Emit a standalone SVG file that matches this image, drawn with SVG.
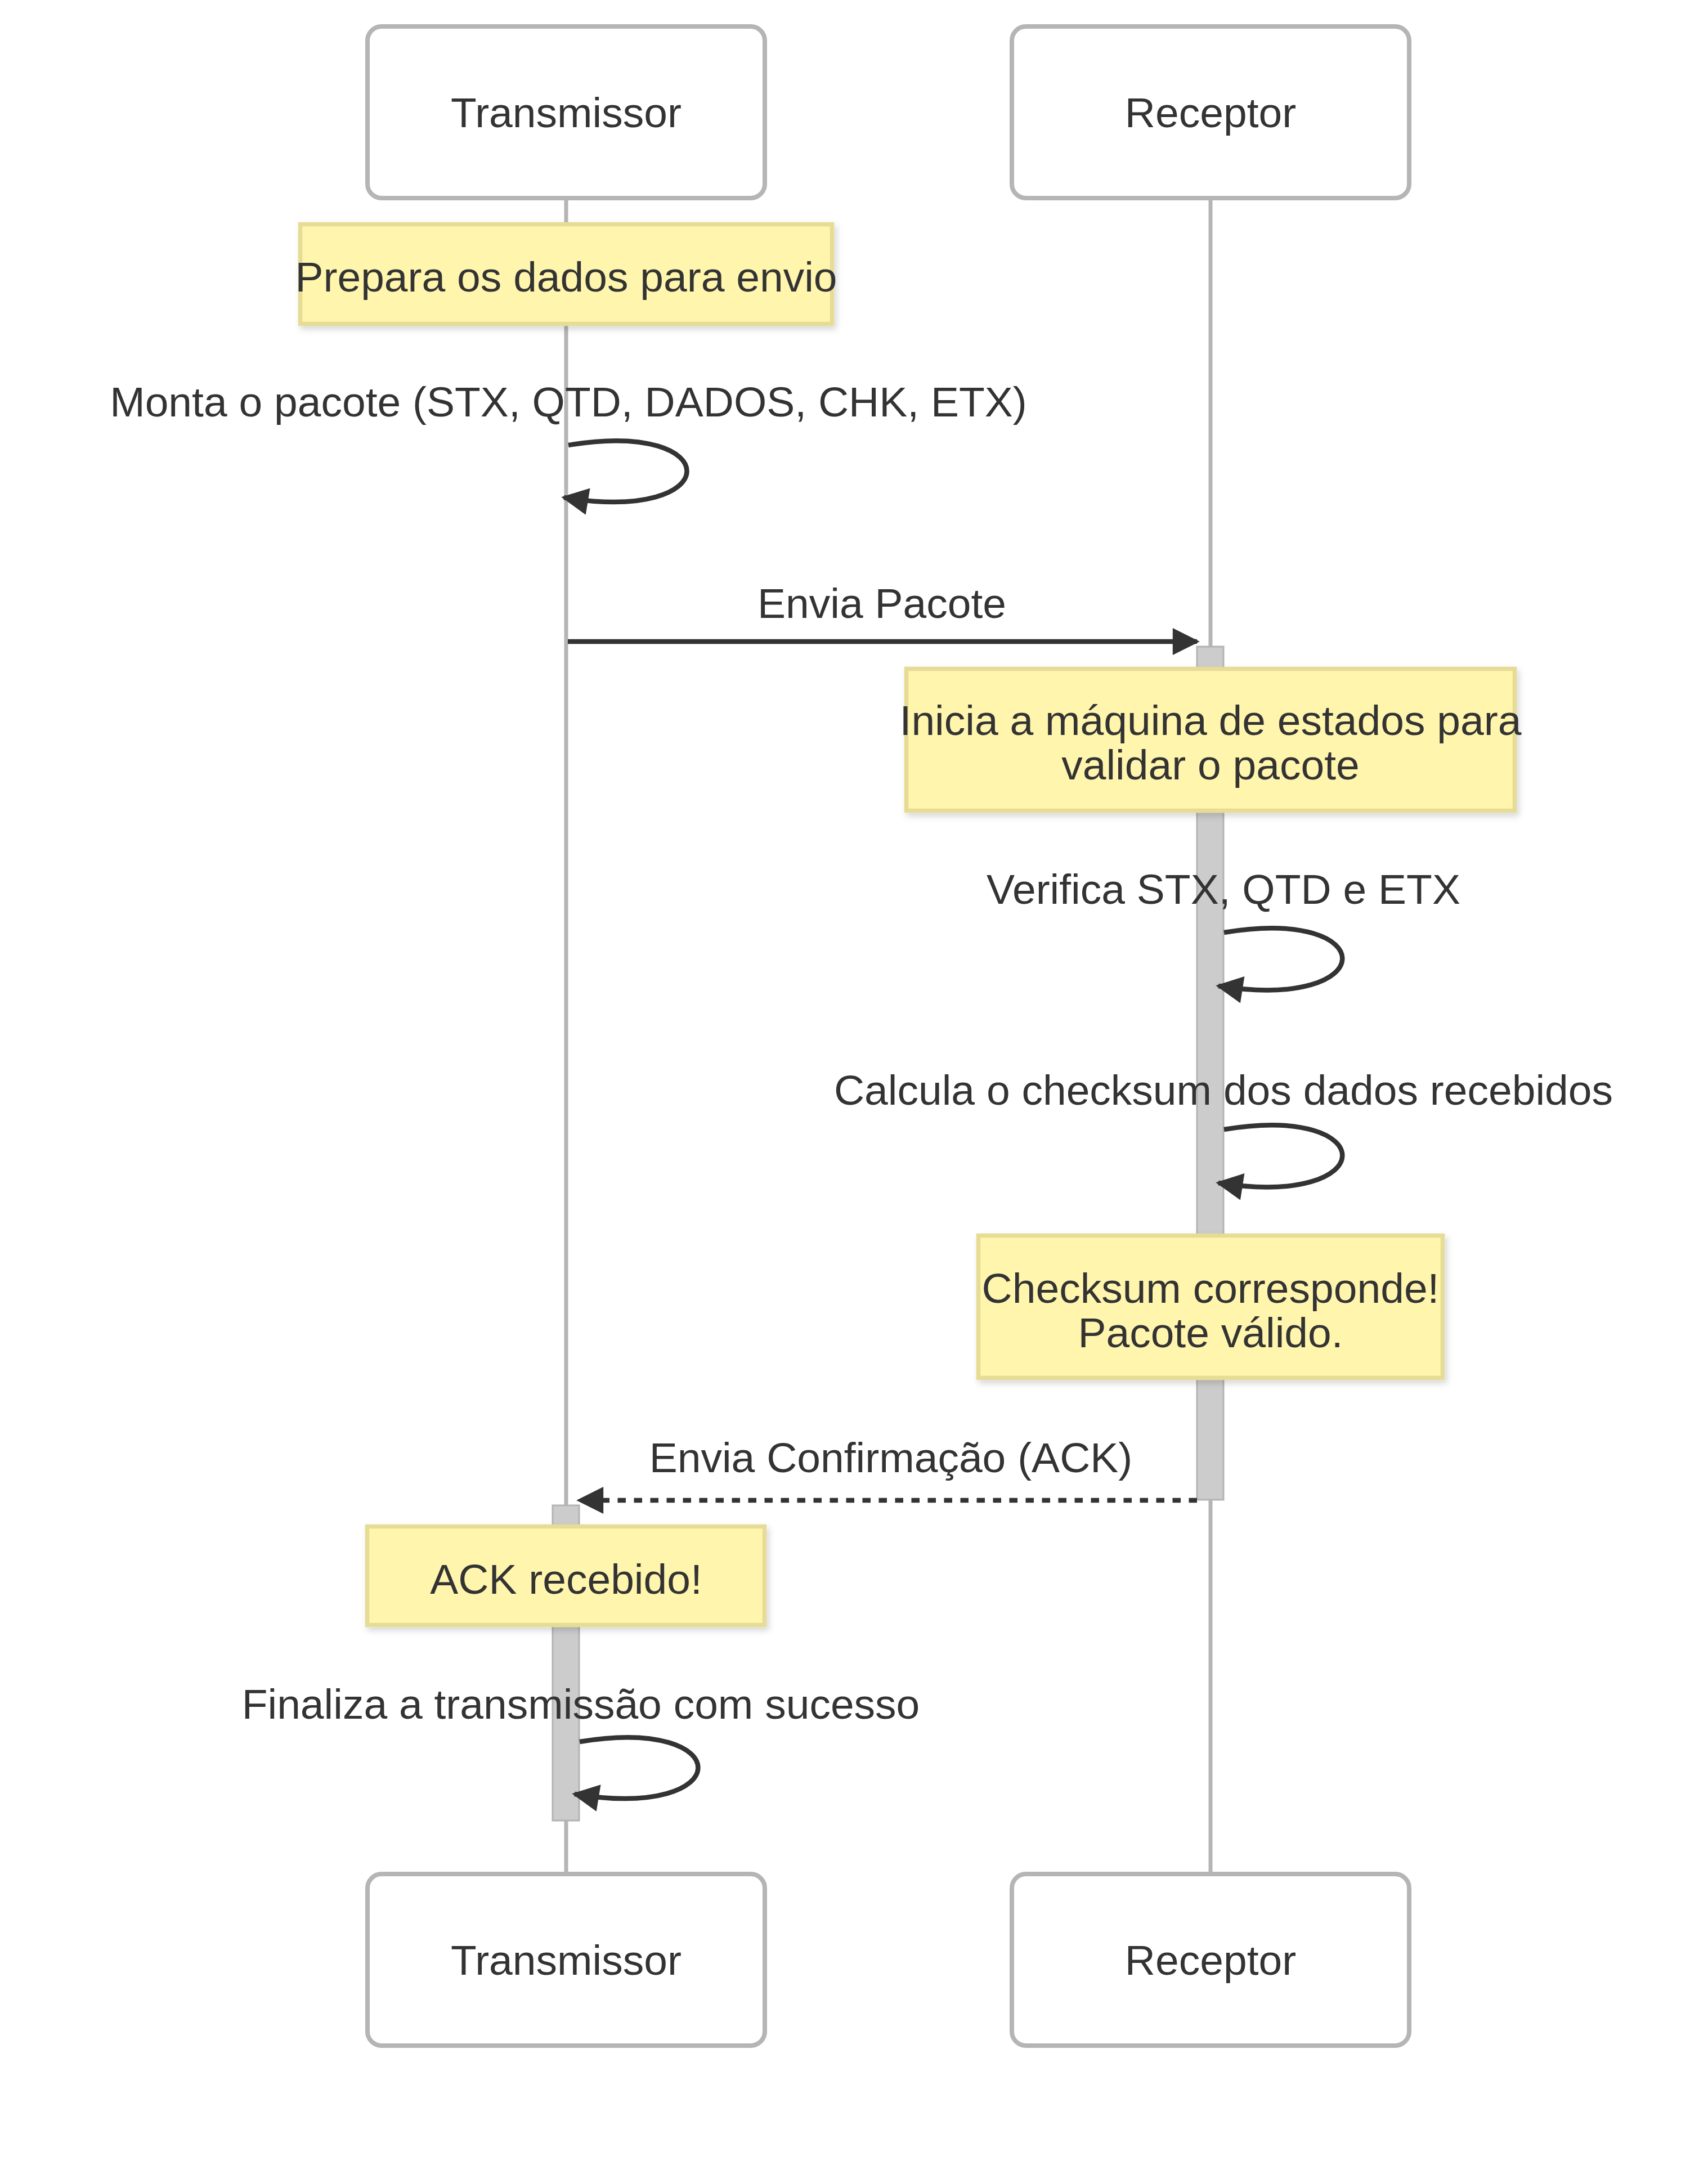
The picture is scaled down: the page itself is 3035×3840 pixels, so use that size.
<svg xmlns="http://www.w3.org/2000/svg" width="3035" height="3840" viewBox="0 0 3035 3840">
<defs>
<style>
text{font-family:"Liberation Sans",Arial,Helvetica,sans-serif;font-size:75px;fill:#333333;text-anchor:middle}
.actor rect{fill:#ffffff;stroke:#b5b5b5;stroke-width:8}
.life{stroke:#b5b5b5;stroke-width:7;fill:none}
.note rect{fill:#fff5ad;stroke:#e6dc95;stroke-width:7.5;filter:url(#sh)}
.act{fill:#cccccc;stroke:#b3b3b3;stroke-width:3}
.msg{fill:none;stroke:#333333;stroke-width:8.5;marker-end:url(#arrow)}
.dot{stroke-dasharray:14.5 14.5}
</style>
<marker id="arrow" viewBox="0 0 10 10" refX="9" refY="5" markerWidth="51" markerHeight="48" markerUnits="userSpaceOnUse" orient="auto">
<path d="M0,0 L10,5 L0,10 z" fill="#333333"/>
</marker>
<filter id="sh" x="-10%" y="-25%" width="125%" height="160%">
<feDropShadow dx="4" dy="6" stdDeviation="6" flood-color="#000000" flood-opacity="0.16"/>
</filter>
</defs>
<rect x="0" y="0" width="3035" height="3840" fill="#ffffff"/>

<g id="lifelines">
<line class="life" x1="1006" y1="352" x2="1006" y2="3331"/>
<line class="life" x1="2151" y1="352" x2="2151" y2="3331"/>
</g>

<g id="activations">
<rect class="act" x="2127" y="1149" width="47" height="1516"/>
<rect class="act" x="982" y="2675" width="47" height="560"/>
</g>

<g id="note-prepara" class="note">
<rect x="533.5" y="398.5" width="945" height="177"/>
<text x="1006" y="518">Prepara os dados para envio</text>
</g>
<g id="note-inicia" class="note">
<rect x="1610.5" y="1188.5" width="1081" height="252"/>
<text x="2151" y="1306">Inicia a máquina de estados para</text>
<text x="2151" y="1385">validar o pacote</text>
</g>
<g id="note-checksum" class="note">
<rect x="1738.5" y="2195.5" width="825" height="253"/>
<text x="2151" y="2315">Checksum corresponde!</text>
<text x="2151" y="2394">Pacote válido.</text>
</g>
<g id="note-ack" class="note">
<rect x="652.5" y="2712.5" width="706" height="175"/>
<text x="1006" y="2832">ACK recebido!</text>
</g>

<g id="connectors">
<text x="1010" y="740">Monta o pacote (STX, QTD, DADOS, CHK, ETX)</text>
<path class="msg" d="M1010,791 C1292,744 1292,932 1002,884"/>
<text x="1567" y="1098">Envia Pacote</text>
<path class="msg" d="M1009,1140 L2127,1140"/>
<text x="2174" y="1606">Verifica STX, QTD e ETX</text>
<path class="msg" d="M2175,1657 C2457,1610 2457,1798 2165,1752"/>
<text x="2174" y="1963">Calcula o checksum dos dados recebidos</text>
<path class="msg" d="M2175,2007 C2457,1960 2457,2148 2165,2102"/>
<text x="1583" y="2616">Envia Confirmação (ACK)</text>
<path class="msg dot" d="M2127,2666 L1029,2666"/>
<text x="1032" y="3054">Finaliza a transmissão com sucesso</text>
<path class="msg" d="M1030,3095 C1312,3048 1312,3236 1021,3188"/>
</g>

<g id="actor-transmissor-top" class="actor">
<rect x="653" y="47" width="706" height="305" rx="25" ry="25"/>
<text x="1006" y="226">Transmissor</text>
</g>
<g id="actor-receptor-top" class="actor">
<rect x="1798" y="47" width="706" height="305" rx="25" ry="25"/>
<text x="2151" y="226">Receptor</text>
</g>
<g id="actor-transmissor-bottom" class="actor">
<rect x="653" y="3330" width="706" height="305" rx="25" ry="25"/>
<text x="1006" y="3509">Transmissor</text>
</g>
<g id="actor-receptor-bottom" class="actor">
<rect x="1798" y="3330" width="706" height="305" rx="25" ry="25"/>
<text x="2151" y="3509">Receptor</text>
</g>
</svg>
